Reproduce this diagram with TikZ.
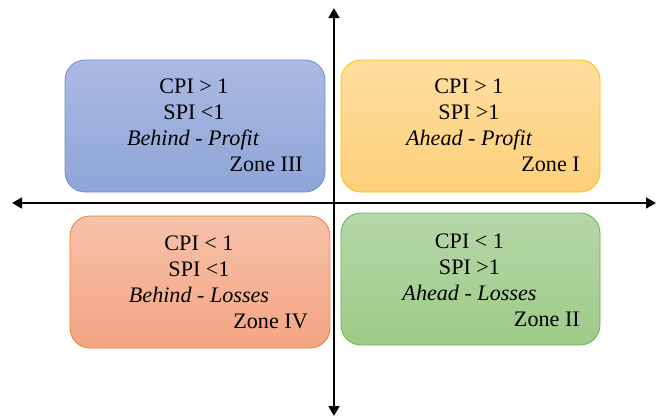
\documentclass[tikz,border=0pt]{standalone}
\usepackage{fontspec}
\setmainfont{Liberation Serif}
\usetikzlibrary{arrows.meta}
\begin{document}
\begin{tikzpicture}[x=0.75pt,y=-0.75pt,
  txt/.style={anchor=base, inner sep=0pt, font=\fontsize{16.6}{19}\selectfont},
  zonelbl/.style={anchor=base east, inner sep=0pt, font=\fontsize{16.6}{19}\selectfont},
  axis/.style={line width=1.8pt, -{Triangle[width=8pt,length=7.5pt]}}
]
\useasboundingbox (0,0) rectangle (656,419);
% boxes
\path[rounded corners=15pt, line width=0.6pt, draw={rgb,255:red,111;green,143;blue,207},
  top color={rgb,255:red,172;green,185;blue,226}, bottom color={rgb,255:red,142;green,165;blue,216}]
  (65,60) rectangle (325,192) node[pos=0.5] (b3) {};
\path[rounded corners=15pt, line width=0.6pt, draw={rgb,255:red,255;green,192;blue,0},
  top color={rgb,255:red,255;green,222;blue,160}, bottom color={rgb,255:red,253;green,208;blue,122}]
  (341,60) rectangle (600,192) node[pos=0.5] (b1) {};
\path[rounded corners=15pt, line width=0.6pt, draw={rgb,255:red,237;green,125;blue,49},
  top color={rgb,255:red,246;green,193;blue,170}, bottom color={rgb,255:red,244;green,165;blue,131}]
  (70,216) rectangle (330,348) node[pos=0.5] (b4) {};
\path[rounded corners=15pt, line width=0.6pt, draw={rgb,255:red,112;green,173;blue,71},
  top color={rgb,255:red,182;green,215;blue,168}, bottom color={rgb,255:red,158;green,203;blue,136}]
  (341,213) rectangle (600,345) node[pos=0.5] (b2) {};
% Zone III
\node[txt] (t3a) at (194,93) {CPI > 1};
\node[txt] (t3b) at (194,119) {SPI <1};
\node[txt] (t3c) at (193,145) {\itshape Behind - Profit};
\node[zonelbl] (z3) at (303,171) {Zone III};
% Zone I
\node[txt] (t1a) at (469,93) {CPI > 1};
\node[txt] (t1b) at (469,119) {SPI >1};
\node[txt] (t1c) at (469,145) {\itshape Ahead - Profit};
\node[zonelbl] (z1) at (580,171) {Zone I};
% Zone IV
\node[txt] (t4a) at (199,250) {CPI < 1};
\node[txt] (t4b) at (199,276) {SPI <1};
\node[txt] (t4c) at (199,302) {\itshape Behind - Losses};
\node[zonelbl] (z4) at (308,328) {Zone IV};
% Zone II
\node[txt] (t2a) at (469.5,248) {CPI < 1};
\node[txt] (t2b) at (469.5,274) {SPI >1};
\node[txt] (t2c) at (469.5,300) {\itshape Ahead - Losses};
\node[zonelbl] (z2) at (580,326) {Zone II};
% axes
\coordinate (o) at (334,203);
\coordinate (xl) at (12,203);
\coordinate (xr) at (656,203);
\coordinate (yt) at (334,8);
\coordinate (yb) at (334,416);
\draw[axis] (o) -- (xl);
\draw[axis] (o) -- (xr);
\draw[axis] (o) -- (yt);
\draw[axis] (o) -- (yb);
\end{tikzpicture}
\end{document}
